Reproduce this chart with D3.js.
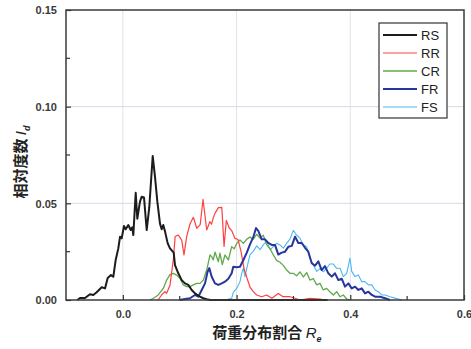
<!DOCTYPE html>
<html>
<head>
<meta charset="utf-8">
<script src="https://cdn.jsdelivr.net/npm/d3@7"></script>
<style>
  html, body { margin: 0; padding: 0; background: #fff; }
  svg { display: block; }
  .tick-label { font-family: "Liberation Sans", Arial, sans-serif; font-size: 11px; font-weight: bold; fill: #3a3a3a; }
  .legend-text { font-family: "Liberation Sans", Arial, sans-serif; font-size: 13px; fill: #222; }
</style>
</head>
<body>
<svg id="chart" width="471" height="349"></svg>
<script>
// Relative frequency I_d versus load distribution ratio R_e, [R_e, I_d] pairs
const seriesNames = ["RS", "RR", "CR", "FR", "FS"];
const seriesColors = ["#1c1c1c", "#ff4040", "#62a84c", "#27359c", "#4cb8ec"];
const seriesWidths = [2, 1.2, 1.3, 2, 1.1];

const rsData = [
  [-0.08, 0], [-0.0754, 0.001], [-0.0666, 0.001], [-0.0578, 0.003], [-0.052, 0.0026], [-0.046, 0.004],
  [-0.0372, 0.0066], [-0.0314, 0.006], [-0.0267, 0.0114], [-0.0209, 0.0129], [-0.0168, 0.012],
  [-0.0126, 0.0207], [-0.008, 0.0267], [-0.005, 0.0327], [-0.0021, 0.0319], [0.002, 0.0383],
  [0.005, 0.0366], [0.0096, 0.0388], [0.0138, 0.0362], [0.0166, 0.0376], [0.0184, 0.0336],
  [0.0226, 0.0555], [0.0254, 0.042], [0.0301, 0.0509], [0.0331, 0.0534], [0.0372, 0.053],
  [0.0419, 0.0362], [0.0465, 0.048], [0.0525, 0.0745], [0.0565, 0.0638], [0.0606, 0.051],
  [0.0653, 0.0395], [0.0683, 0.0366], [0.0711, 0.0388], [0.0741, 0.0355], [0.0789, 0.0293],
  [0.0829, 0.0267], [0.0894, 0.0245], [0.0917, 0.018], [0.0975, 0.0138], [0.1035, 0.0103],
  [0.1093, 0.0086], [0.1151, 0.0078], [0.1211, 0.0052], [0.1269, 0.0034], [0.1357, 0.0017],
  [0.1415, 0.0009], [0.1475, 0.0004], [0.1533, 0], [0.36, 0]
];

const rrData = [
  [0.062, 0], [0.068, 0.0026], [0.074, 0.0043], [0.077, 0.0035], [0.083, 0.0078], [0.089, 0.0216],
  [0.092, 0.0328], [0.0975, 0.0336], [0.1035, 0.031], [0.1075, 0.0233], [0.1122, 0.0328],
  [0.118, 0.0393], [0.124, 0.0428], [0.130, 0.0371], [0.136, 0.039], [0.141, 0.052],
  [0.1475, 0.0362], [0.153, 0.0405], [0.156, 0.0392], [0.159, 0.0425], [0.162, 0.0448],
  [0.168, 0.0478], [0.174, 0.0479], [0.178, 0.0277], [0.182, 0.0412], [0.1867, 0.0375],
  [0.192, 0.0356], [0.197, 0.0319], [0.2025, 0.0313], [0.2078, 0.0252], [0.213, 0.0165],
  [0.2183, 0.0114], [0.2236, 0.0067], [0.2294, 0.0043], [0.2354, 0.0026], [0.244, 0.0017],
  [0.253, 0.0026], [0.262, 0.0009], [0.2734, 0.0034], [0.2817, 0.0017], [0.294, 0.0017],
  [0.303, 0.0009], [0.3115, 0], [0.329, 0.0009], [0.347, 0.0005], [0.355, 0]
];

const crData = [
  [0.048, 0], [0.0536, 0.0009], [0.0623, 0.0026], [0.0711, 0.006], [0.077, 0.0103], [0.0829, 0.0131],
  [0.0887, 0.0138], [0.0946, 0.0129], [0.1005, 0.0112], [0.1063, 0.0078], [0.1122, 0.0069],
  [0.118, 0.0069], [0.124, 0.0078], [0.130, 0.0086], [0.1357, 0.0086], [0.1415, 0.0103],
  [0.1475, 0.0155], [0.1533, 0.0233], [0.1563, 0.0224], [0.159, 0.0207], [0.162, 0.0248],
  [0.1679, 0.0198], [0.1708, 0.0243], [0.1749, 0.0183], [0.1796, 0.0233], [0.1855, 0.0207],
  [0.1914, 0.0276], [0.196, 0.0265], [0.2002, 0.0293], [0.206, 0.031], [0.212, 0.0293],
  [0.218, 0.0315], [0.2236, 0.0325], [0.2294, 0.0315], [0.2354, 0.034], [0.2413, 0.032],
  [0.247, 0.0335], [0.253, 0.0285], [0.259, 0.0265], [0.2646, 0.0233], [0.2705, 0.0205],
  [0.2763, 0.0195], [0.2822, 0.0179], [0.288, 0.0155], [0.2939, 0.0138], [0.2998, 0.0138],
  [0.3057, 0.0125], [0.3115, 0.0145], [0.3174, 0.0119], [0.3233, 0.0142], [0.329, 0.0103],
  [0.335, 0.0111], [0.3409, 0.0078], [0.3467, 0.0086], [0.3525, 0.0052], [0.3584, 0.006],
  [0.364, 0.0043], [0.3702, 0.0026], [0.376, 0.0043], [0.382, 0.0017], [0.3877, 0.0026],
  [0.3937, 0.0005], [0.3995, 0]
];

const frData = [
  [0.1, 0], [0.1093, 0.0005], [0.118, 0.0009], [0.1269, 0.0026], [0.1327, 0.0017], [0.1387, 0.0052],
  [0.1445, 0.0086], [0.1489, 0.0145], [0.152, 0.0165], [0.1563, 0.012], [0.162, 0.0086],
  [0.1679, 0.0078], [0.1738, 0.0086], [0.1796, 0.0095], [0.1855, 0.011], [0.1914, 0.0138],
  [0.1942, 0.0172], [0.2002, 0.017], [0.206, 0.0172], [0.212, 0.0207], [0.218, 0.0245],
  [0.2236, 0.0288], [0.2294, 0.0325], [0.2342, 0.0372], [0.2382, 0.0358], [0.2442, 0.0314],
  [0.25, 0.0314], [0.2558, 0.0295], [0.2618, 0.0285], [0.2676, 0.0285], [0.2734, 0.0235],
  [0.2794, 0.0245], [0.2853, 0.025], [0.291, 0.0275], [0.2971, 0.028], [0.3029, 0.0328],
  [0.3086, 0.0295], [0.3146, 0.0295], [0.3204, 0.027], [0.3262, 0.025], [0.3322, 0.019],
  [0.338, 0.0178], [0.3438, 0.02], [0.3497, 0.0155], [0.3555, 0.0175], [0.3614, 0.0138],
  [0.3674, 0.0121], [0.3732, 0.0138], [0.379, 0.0103], [0.385, 0.011], [0.3907, 0.0069],
  [0.3966, 0.0086], [0.4025, 0.006], [0.4084, 0.0069], [0.4142, 0.0052], [0.4201, 0.006],
  [0.426, 0.0034], [0.4318, 0.0043], [0.4378, 0.0026], [0.4436, 0.0017], [0.4524, 0.0017],
  [0.4612, 0.0009], [0.47, 0]
];

const fsData = [
  [0.1796, 0], [0.1914, 0.0009], [0.1942, 0.004], [0.2002, 0.006], [0.206, 0.0095], [0.209, 0.0138],
  [0.212, 0.0164], [0.2148, 0.0121], [0.218, 0.0164], [0.2207, 0.0198], [0.2236, 0.0233],
  [0.2294, 0.0252], [0.2354, 0.028], [0.2413, 0.026], [0.247, 0.0285], [0.253, 0.0305],
  [0.259, 0.0259], [0.2646, 0.0276], [0.2705, 0.0293], [0.2763, 0.0285], [0.2822, 0.0268],
  [0.288, 0.0293], [0.2939, 0.0315], [0.2998, 0.036], [0.3057, 0.0335], [0.3115, 0.032],
  [0.3174, 0.0285], [0.3233, 0.0275], [0.329, 0.0216], [0.335, 0.0181], [0.3409, 0.0148],
  [0.3467, 0.0162], [0.3525, 0.0146], [0.3584, 0.0164], [0.364, 0.0186], [0.3702, 0.0186],
  [0.376, 0.0164], [0.382, 0.0164], [0.3877, 0.0121], [0.3937, 0.0138], [0.3995, 0.0216],
  [0.4025, 0.0148], [0.4084, 0.0121], [0.4142, 0.0129], [0.4201, 0.0095], [0.426, 0.0095],
  [0.4318, 0.0078], [0.4378, 0.0078], [0.4436, 0.0052], [0.4494, 0.0043], [0.4554, 0.0026],
  [0.4612, 0.0026], [0.47, 0.0017], [0.4817, 0.0007], [0.491, 0]
];

const xTickValues = [0.0, 0.2, 0.4, 0.6];
const xMinorTicks = [0.1, 0.3, 0.5];
const yTickValues = [0.00, 0.05, 0.10, 0.15];
const yMinorTicks = [0.025, 0.075, 0.125];
const xGrid = [0.0, 0.2, 0.4];
const yGrid = [0.05, 0.10];

const seriesData = [rsData, rrData, crData, frData, fsData];

const svg = d3.select("#chart");
const plotLeft = 66, plotRight = 464, plotTop = 10, plotBottom = 300;

const x = d3.scaleLinear().domain([-0.1, 0.6]).range([plotLeft, plotRight]);
const y = d3.scaleLinear().domain([0, 0.15]).range([plotBottom, plotTop]);

// faint grid
const grid = svg.append("g");
grid.selectAll("line.gx").data(xGrid).join("line")
  .attr("x1", d => x(d)).attr("x2", d => x(d))
  .attr("y1", plotTop).attr("y2", plotBottom)
  .attr("stroke", "#e0e3ec").attr("stroke-width", 1);
grid.selectAll("line.gy").data(yGrid).join("line")
  .attr("x1", plotLeft).attr("x2", plotRight)
  .attr("y1", d => y(d)).attr("y2", d => y(d))
  .attr("stroke", "#d6dae6").attr("stroke-width", 1);

// curves
const line = d3.line().x(d => x(d[0])).y(d => y(d[1]));
const plot = svg.append("g");
// thin curves first, heavy ones on top
const order = [4, 2, 1, 3, 0];
order.forEach(i => {
  plot.append("path")
    .datum(seriesData[i])
    .attr("d", line)
    .attr("fill", "none")
    .attr("stroke", seriesColors[i])
    .attr("stroke-width", seriesWidths[i])
    .attr("stroke-linejoin", "round");
});

// axes with inward ticks
const xAxis = d3.axisBottom(x).tickValues(xTickValues).tickFormat(d3.format(".1f"))
  .tickSizeInner(-5).tickSizeOuter(0).tickPadding(10);
const gx = svg.append("g").attr("transform", `translate(0,${plotBottom})`).call(xAxis);
gx.select(".domain").remove();
gx.selectAll(".tick line").attr("stroke", "#333").attr("stroke-width", 1.2);
gx.selectAll(".tick text").attr("class", "tick-label");

const yAxis = d3.axisLeft(y).tickValues(yTickValues).tickFormat(d3.format(".2f"))
  .tickSizeInner(-5).tickSizeOuter(0).tickPadding(9);
const gy = svg.append("g").attr("transform", `translate(${plotLeft},0)`).call(yAxis);
gy.select(".domain").remove();
gy.selectAll(".tick line").attr("stroke", "#333").attr("stroke-width", 1.2);
gy.selectAll(".tick text").attr("class", "tick-label").attr("dy", "0.35em");

// minor ticks
svg.append("g").selectAll("line").data(xMinorTicks).join("line")
  .attr("x1", d => x(d)).attr("x2", d => x(d))
  .attr("y1", plotBottom).attr("y2", plotBottom - 4)
  .attr("stroke", "#333").attr("stroke-width", 1.2);
svg.append("g").selectAll("line").data(yMinorTicks).join("line")
  .attr("x1", plotLeft).attr("x2", plotLeft + 4)
  .attr("y1", d => y(d)).attr("y2", d => y(d))
  .attr("stroke", "#333").attr("stroke-width", 1.2);

// frame
svg.append("rect")
  .attr("x", plotLeft).attr("y", plotTop)
  .attr("width", plotRight - plotLeft).attr("height", plotBottom - plotTop)
  .attr("fill", "none").attr("stroke", "#3a3a3a").attr("stroke-width", 1.5);

// axis titles
const xt = svg.append("text")
  .attr("x", 267).attr("y", 338)
  .attr("text-anchor", "middle")
  .attr("font-family", "'Noto Sans CJK JP', sans-serif")
  .attr("font-size", 15).attr("font-weight", "bold").attr("fill", "#222");
xt.append("tspan").text("荷重分布割合 ");
xt.append("tspan").attr("font-family", "'Liberation Sans', Arial, sans-serif")
  .attr("font-style", "italic").attr("font-weight", "normal").text("R");
xt.append("tspan").attr("font-family", "'Liberation Sans', Arial, sans-serif")
  .attr("font-style", "italic").attr("font-size", 9).attr("dy", 4).text("e");

const yt = svg.append("text")
  .attr("transform", "translate(26,162) rotate(-90)")
  .attr("text-anchor", "middle")
  .attr("font-family", "'Noto Sans CJK JP', sans-serif")
  .attr("font-size", 15).attr("font-weight", "bold").attr("fill", "#222");
yt.append("tspan").text("相対度数 ");
yt.append("tspan").attr("font-family", "'Liberation Sans', Arial, sans-serif")
  .attr("font-style", "italic").attr("font-weight", "normal").text("I");
yt.append("tspan").attr("font-family", "'Liberation Sans', Arial, sans-serif")
  .attr("font-style", "italic").attr("font-size", 9).attr("dy", 4).text("d");

// legend
const legend = svg.append("g");
legend.append("rect")
  .attr("x", 379).attr("y", 23).attr("width", 68).attr("height", 95)
  .attr("fill", "#fff").attr("stroke", "#333").attr("stroke-width", 1.2);
const ly = d3.scalePoint().domain(seriesNames).range([35, 107]);
seriesNames.forEach((name, i) => {
  legend.append("line")
    .attr("x1", 383).attr("x2", 417)
    .attr("y1", ly(name)).attr("y2", ly(name))
    .attr("stroke", seriesColors[i]).attr("stroke-width", seriesWidths[i]);
  legend.append("text")
    .attr("class", "legend-text")
    .attr("x", 421).attr("y", ly(name)).attr("dy", "0.36em")
    .text(name);
});
</script>
</body>
</html>
